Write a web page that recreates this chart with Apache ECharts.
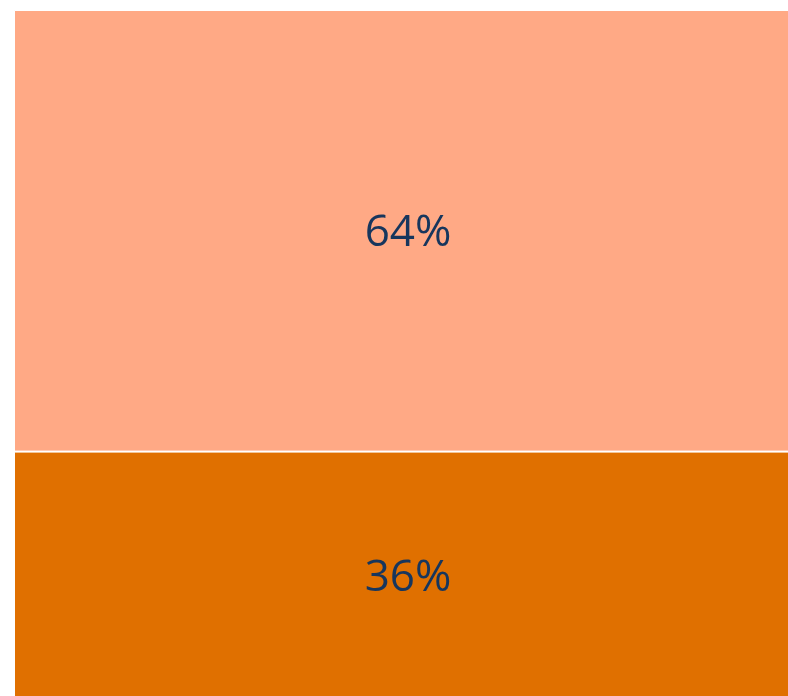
<!DOCTYPE html>
<html>
<head>
<meta charset="utf-8">
<script src="https://cdn.jsdelivr.net/npm/echarts@6/dist/echarts.min.js"></script>
<style>html,body{margin:0;padding:0;background:#fff;overflow:hidden;width:788px;height:696px}#c{width:802px;height:700px}</style>
</head>
<body>
<div id="c"></div>
<script>
const categories = ['Total'];
const seriesNames = ['Bottom', 'Top'];
const bottomValues = [36];
const topValues = [64];
const seriesColors = ['#E07000', '#FFA985'];

const chart = echarts.init(document.getElementById('c'));
const labelStyle = {
  show: true,
  position: 'inside',
  offset: [0, 3],
  formatter: p => p.value + '%',
  fontSize: 44,
  fontFamily: '"Open Sans", sans-serif',
  color: '#17365D'
};
chart.setOption({
  animation: false,
  grid: { left: 14, right: 0, top: 10, bottom: 0 },
  xAxis: { type: 'category', data: categories, show: false },
  yAxis: { type: 'value', min: 0, max: 100, show: false },
  series: [
    { name: seriesNames[0], type: 'bar', stack: 's', data: bottomValues, barWidth: '100%',
      itemStyle: { color: seriesColors[0], borderColor: '#fff', borderWidth: 1 }, label: labelStyle },
    { name: seriesNames[1], type: 'bar', stack: 's', data: topValues, barWidth: '100%',
      itemStyle: { color: seriesColors[1], borderColor: '#fff', borderWidth: 1 }, label: labelStyle }
  ]
});
</script>
</body>
</html>
